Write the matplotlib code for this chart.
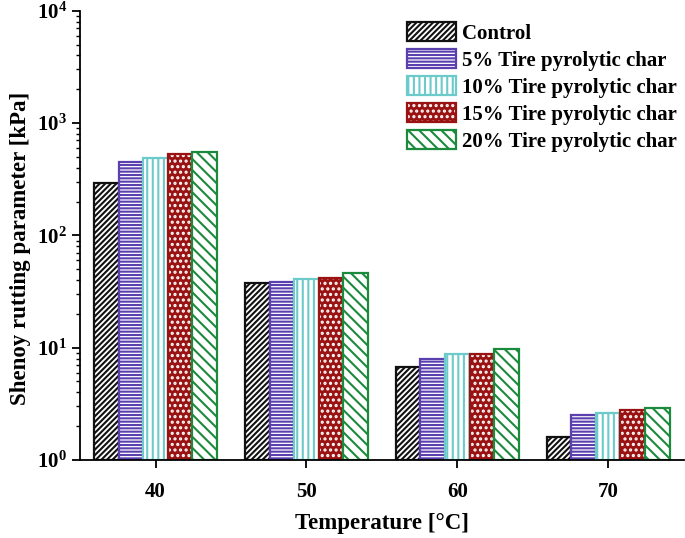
import numpy as np
import matplotlib
matplotlib.use("Agg")
import matplotlib.pyplot as plt
from matplotlib.patches import Patch
from matplotlib.legend_handler import HandlerTuple
from matplotlib.ticker import LogLocator, FixedLocator, NullFormatter

temperatures = ["40", "50", "60", "70"]
series_names = ["Control", "5% Tire pyrolytic char", "10% Tire pyrolytic char",
                "15% Tire pyrolytic char", "20% Tire pyrolytic char"]
control = [291, 37.8, 6.67, 1.61]
char5 = [449, 38.8, 7.93, 2.52]
char10 = [487, 41.3, 8.77, 2.64]
char15 = [529, 41.9, 8.8, 2.76]
char20 = [551, 45.8, 9.74, 2.89]

values = [control, char5, char10, char15, char20]
colours = ["#111111", "#5b3fae", "#6ccaca", "#9a1212", "#1b8a3c"]
hatches = ["//////", "-----", "|||", "...", "\\\\\\"]
faces = ["white", "white", "white", "#9a1212", "white"]

plt.rcParams['font.family'] = ['Liberation Serif', 'DejaVu Serif']
plt.rcParams['font.weight'] = 'bold'
plt.rcParams['hatch.linewidth'] = 1.5

fig = plt.figure(figsize=(6.85, 5.38), dpi=100)
ax = fig.add_axes([0.117, 0.145, 0.881, 0.835])

x = np.arange(len(temperatures))
width = 0.163
for i, vals in enumerate(values):
    pos = x + (i - 2) * width
    heights = np.array(vals) - 1
    if faces[i] != "white":
        # coloured fill with white hatch, outline drawn on top
        ax.bar(pos, heights, width, bottom=1, color=faces[i], edgecolor="white",
               hatch=hatches[i], linewidth=0)
    else:
        ax.bar(pos, heights, width, bottom=1, color="white", edgecolor=colours[i],
               hatch=hatches[i], linewidth=0)
    ax.bar(pos, heights, width, bottom=1, color="none", edgecolor=colours[i],
           linewidth=1.6)

ax.set_yscale("log")
ax.set_ylim(1, 1e4)
ax.set_xlim(-0.5, 3.5)
ax.set_xticks(x)
ax.set_xticklabels(temperatures)
ax.yaxis.set_major_locator(FixedLocator([1, 10, 100, 1000, 10000]))
ax.yaxis.set_minor_locator(LogLocator(base=10, subs=np.arange(2, 10)))
ax.yaxis.set_minor_formatter(NullFormatter())

ax.spines['top'].set_visible(False)
ax.spines['right'].set_visible(False)
ax.spines['left'].set_linewidth(1.3)
ax.spines['bottom'].set_linewidth(1.3)
ax.tick_params(axis='both', which='major', direction='out', length=6, width=1.3,
               labelsize=15)
ax.tick_params(axis='y', which='minor', direction='out', length=3, width=1.0)
ax.tick_params(axis='x', pad=10)

ax.set_xlabel("Temperature [°C]", fontsize=16.5, fontweight='bold', labelpad=8)
ax.set_ylabel("Shenoy rutting parameter [kPa]", fontsize=16.5, fontweight='bold')
ax.yaxis.set_label_coords(-0.081, 0.472)

handles = []
for i, name in enumerate(series_names):
    if faces[i] != "white":
        fill = Patch(facecolor=faces[i], edgecolor="white", hatch=hatches[i], linewidth=0)
    else:
        fill = Patch(facecolor="white", edgecolor=colours[i], hatch=hatches[i], linewidth=0)
    outline = Patch(facecolor="none", edgecolor=colours[i], linewidth=1.6)
    handles.append((fill, outline))
leg = ax.legend(handles=handles, labels=series_names, loc='upper left',
                bbox_to_anchor=(0.541, 0.975), frameon=False, fontsize=15,
                handlelength=2.35, handleheight=1.05, labelspacing=0.25,
                handletextpad=0.3, borderaxespad=0, borderpad=0,
                handler_map={tuple: HandlerTuple(ndivide=1, pad=0)})
for t in leg.get_texts():
    t.set_fontweight('bold')

fig.savefig("out.png", dpi=100)
